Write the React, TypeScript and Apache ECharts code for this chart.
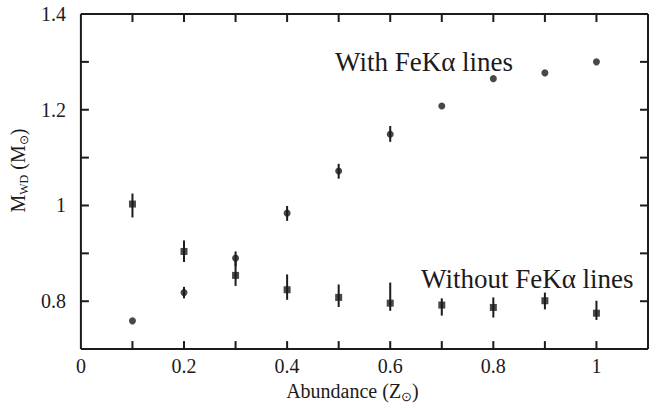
import React, { useEffect, useRef } from "react";
import * as echarts from "echarts";

const abundance = [0.1, 0.2, 0.3, 0.4, 0.5, 0.6, 0.7, 0.8, 0.9, 1.0];

const withFe = [0.759, 0.818, 0.89, 0.984, 1.072, 1.149, 1.208, 1.265, 1.277, 1.3];
const withFeLow = [0.759, 0.806, 0.873, 0.968, 1.056, 1.133, 1.208, 1.265, 1.277, 1.3];
const withFeHigh = [0.759, 0.83, 0.904, 0.999, 1.087, 1.166, 1.208, 1.265, 1.277, 1.3];

const withoutFe = [1.003, 0.904, 0.854, 0.824, 0.808, 0.796, 0.792, 0.787, 0.801, 0.775];
const withoutFeLow = [0.975, 0.882, 0.832, 0.803, 0.788, 0.78, 0.77, 0.766, 0.783, 0.761];
const withoutFeHigh = [1.025, 0.927, 0.884, 0.856, 0.835, 0.839, 0.806, 0.808, 0.818, 0.801];

const xRange = [0, 1.1];
const yRange = [0.7, 1.4];
const xTicks = [0.1, 0.2, 0.3, 0.4, 0.5, 0.6, 0.7, 0.8, 0.9, 1.0];
const yTicks = [0.8, 0.9, 1.0, 1.1, 1.2, 1.3];

const labelWith = "With FeKα lines";
const labelWithout = "Without FeKα lines";

const INK = "#1c1a1b";
const FONT = "Liberation Serif";
const TICK = 8;

function fmt(v: number): string {
  const k = Math.round(v * 10);
  if (k % 2 !== 0) return "";
  return String(Number(v.toFixed(1)));
}

function errorSeries(lo: number[], hi: number[]) {
  return {
    type: "custom",
    silent: true,
    data: abundance.map((a, i) => [a, lo[i], hi[i]]),
    encode: { x: 0, y: [1, 2] },
    renderItem: (params: any, api: any) => {
      const x = api.value(0);
      const p1 = api.coord([x, api.value(1)]);
      const p2 = api.coord([x, api.value(2)]);
      return {
        type: "line",
        shape: { x1: p1[0], y1: p1[1], x2: p2[0], y2: p2[1] },
        style: { stroke: INK, lineWidth: 2 },
      };
    },
  };
}

const frameSeries = {
  type: "custom",
  silent: true,
  clip: false,
  data: [
    [xRange[0], yRange[0], xRange[1], yRange[0]],
    [xRange[0], yRange[1], xRange[1], yRange[1]],
    [xRange[0], yRange[0], xRange[0], yRange[1]],
    [xRange[1], yRange[0], xRange[1], yRange[1]],
  ],
  encode: { x: [0, 2], y: [1, 3] },
  renderItem: (params: any, api: any) => {
    const p1 = api.coord([api.value(0), api.value(1)]);
    const p2 = api.coord([api.value(2), api.value(3)]);
    return {
      type: "line",
      shape: { x1: p1[0], y1: p1[1], x2: p2[0], y2: p2[1] },
      style: { stroke: INK, lineWidth: 2 },
    };
  },
};

// side: 'bottom' | 'top' | 'left' | 'right'
function tickSeries(side: string) {
  const isX = side === "bottom" || side === "top";
  const vals = isX ? xTicks : yTicks;
  const data = vals.map((v) => {
    if (side === "bottom") return [v, yRange[0]];
    if (side === "top") return [v, yRange[1]];
    if (side === "left") return [xRange[0], v];
    return [xRange[1], v];
  });
  return {
    type: "custom",
    silent: true,
    clip: false,
    data,
    encode: { x: 0, y: 1 },
    renderItem: (params: any, api: any) => {
      const p = api.coord([api.value(0), api.value(1)]);
      let shape;
      if (side === "bottom") shape = { x1: p[0], y1: p[1], x2: p[0], y2: p[1] - TICK };
      else if (side === "top") shape = { x1: p[0], y1: p[1], x2: p[0], y2: p[1] + TICK };
      else if (side === "left") shape = { x1: p[0], y1: p[1], x2: p[0] + TICK, y2: p[1] };
      else shape = { x1: p[0], y1: p[1], x2: p[0] - TICK, y2: p[1] };
      return { type: "line", shape, style: { stroke: INK, lineWidth: 2 } };
    },
  };
}

export default function App() {
  const ref = useRef<HTMLDivElement>(null);
  useEffect(() => {
    if (!ref.current) return;
    const chart = echarts.init(ref.current, null, { renderer: "svg" });
    chart.setOption({
      animation: false,
      backgroundColor: "#ffffff",
      textStyle: { fontFamily: FONT },
      grid: {
        left: 79,
        top: 14,
        right: 17,
        bottom: 56,
        containLabel: false,
      },
      xAxis: {
        type: "value",
        min: xRange[0],
        max: xRange[1],
        interval: 0.1,
        splitLine: { show: false },
        axisLine: { show: false },
        axisTick: { show: false },
        axisLabel: {
          show: true,
          formatter: fmt,
          color: INK,
          fontFamily: FONT,
          fontSize: 20,
          margin: 7,
        },
        name: "{a|Abundance (Z}{s|⊙}{a|)}",
        nameLocation: "middle",
        nameGap: 26,
        nameTextStyle: {
          fontFamily: FONT,
          padding: [0, 24, 0, 0],
          rich: {
            a: { fontFamily: FONT, fontSize: 20, color: INK, lineHeight: 24 },
            s: { fontFamily: FONT, fontSize: 13, color: INK, lineHeight: 10, verticalAlign: "bottom" },
          },
        },
      },
      yAxis: {
        type: "value",
        min: yRange[0],
        max: yRange[1],
        interval: 0.1,
        splitLine: { show: false },
        axisLine: { show: false },
        axisTick: { show: false },
        axisLabel: {
          show: true,
          formatter: fmt,
          color: INK,
          fontFamily: FONT,
          fontSize: 20,
          margin: 15,
        },
        name: "{a|M}{s|WD}{a| (M}{s|⊙}{a|)}",
        nameLocation: "middle",
        nameRotate: 90,
        nameGap: 37,
        nameTextStyle: {
          fontFamily: FONT,
          padding: [0, 0, 0, 22],
          rich: {
            a: { fontFamily: FONT, fontSize: 20, color: INK, lineHeight: 24 },
            s: { fontFamily: FONT, fontSize: 12, color: INK, lineHeight: 10, verticalAlign: "bottom" },
          },
        },
      },
      series: [
        frameSeries,
        tickSeries("bottom"),
        tickSeries("top"),
        tickSeries("left"),
        tickSeries("right"),
        errorSeries(withFeLow, withFeHigh),
        errorSeries(withoutFeLow, withoutFeHigh),
        {
          type: "scatter",
          name: labelWith,
          symbol: "circle",
          symbolSize: 7,
          itemStyle: { color: INK },
          data: abundance.map((a, i) => [a, withFe[i]]),
        },
        {
          type: "scatter",
          name: labelWithout,
          symbol: "rect",
          symbolSize: 7,
          itemStyle: { color: INK },
          data: abundance.map((a, i) => [a, withoutFe[i]]),
        },
      ],
      graphic: [
        {
          type: "text",
          left: 335,
          top: 48,
          style: { text: labelWith, fontFamily: FONT, fontSize: 27, fill: INK },
        },
        {
          type: "text",
          left: 421,
          top: 265,
          style: { text: labelWithout, fontFamily: FONT, fontSize: 27, fill: INK },
        },
      ],
    });
    return () => chart.dispose();
  }, []);
  return (
    <div
      ref={ref}
      style={{ position: "fixed", left: 0, top: 0, width: 665, height: 408, background: "#fff" }}
    />
  );
}
